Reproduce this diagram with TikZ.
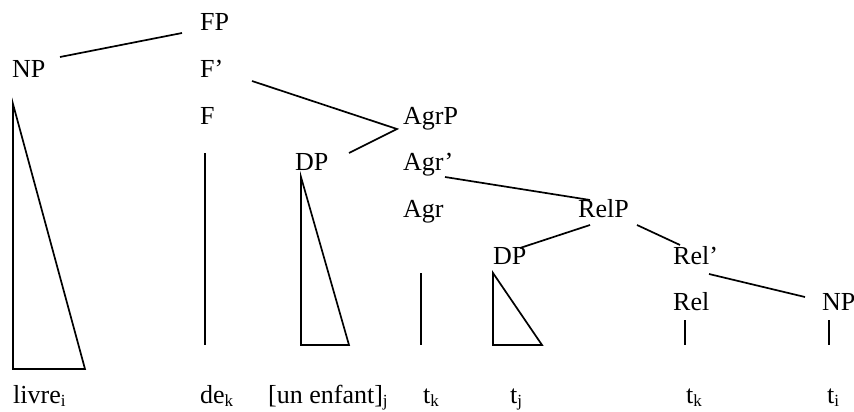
\documentclass[tikz,border=0pt]{standalone}
\usepackage{fontspec}
\setmainfont{Liberation Serif}
\newcommand{\lsub}[1]{\raisebox{-3pt}{\fontsize{17}{17}\selectfont #1}}
\begin{document}
\begin{tikzpicture}[x=1pt,y=-1pt,
  lab/.style={anchor=base west,inner sep=0pt,font=\fontsize{26}{30}\selectfont},
  edge/.style={line width=1.7pt,line join=miter}]
\useasboundingbox (0,0) rectangle (854,412);
% labels
\node[lab] (FP) at (200,30.7) {FP};
\node[lab] (NP1) at (12,77.3) {NP};
\node[lab] (Fbar) at (200,77.3) {F’};
\node[lab] (F) at (200,124) {F};
\node[lab] (AgrP) at (403,124) {AgrP};
\node[lab] (DP1) at (295,170.7) {DP};
\node[lab] (Agrbar) at (403,170.7) {Agr’};
\node[lab] (Agr) at (403,217.3) {Agr};
\node[lab] (RelP) at (578,217.3) {RelP};
\node[lab] (DP2) at (493,264) {DP};
\node[lab] (Relbar) at (673,264) {Rel’};
\node[lab] (Rel) at (673,310.7) {Rel};
\node[lab] (NP2) at (822,310.7) {NP};
% bottom words
\node[lab] (w1) at (13,403.5) {livre\lsub{i}};
\node[lab] (w2) at (200,403.5) {de\lsub{k}};
\node[lab] (w3) at (268,403.5) {[un enfant]\lsub{j}};
\node[lab] (w4) at (423,403.5) {t\lsub{k}};
\node[lab] (w5) at (510,403.5) {t\lsub{j}};
\node[lab] (w6) at (686,403.5) {t\lsub{k}};
\node[lab] (w7) at (827,403.5) {t\lsub{i}};
% connector end points
\coordinate (npA) at (60,57);
\coordinate (fpA) at (182,33);
\coordinate (fbA) at (252,81);
\coordinate (agrpV) at (397,129);
\coordinate (dp1A) at (349,153);
\coordinate (agbA) at (445,177);
\coordinate (relpA) at (590,200);
\coordinate (relpB) at (590,225);
\coordinate (dp2A) at (520,248);
\coordinate (relpC) at (637,225);
\coordinate (relbA) at (680,245);
\coordinate (relbB) at (709,274);
\coordinate (np2A) at (805,297);
% branches
\draw[edge] (npA) -- (fpA);
\draw[edge] (fbA) -- (agrpV) -- (dp1A);
\draw[edge] (agbA) -- (relpA);
\draw[edge] (relpB) -- (dp2A);
\draw[edge] (relpC) -- (relbA);
\draw[edge] (relbB) -- (np2A);
% triangles and vertical lines
\draw[edge] (13,104) -- (13,369) -- (85,369) -- cycle;
\draw[edge] (205,153) -- (205,345);
\draw[edge] (301,177) -- (301,345) -- (349,345) -- cycle;
\draw[edge] (421,273) -- (421,345);
\draw[edge] (493,273) -- (493,345) -- (542,345) -- cycle;
\draw[edge] (685,320) -- (685,345);
\draw[edge] (829,320) -- (829,345);
\end{tikzpicture}
\end{document}
